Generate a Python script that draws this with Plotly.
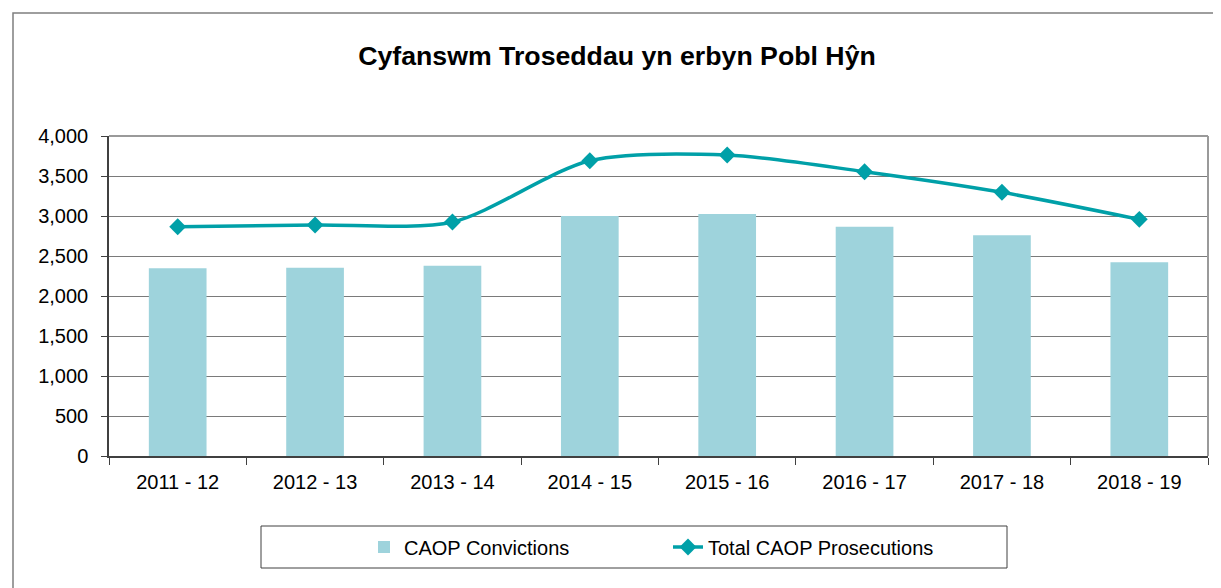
import plotly.graph_objects as go

categories = ["2011 - 12", "2012 - 13", "2013 - 14", "2014 - 15",
              "2015 - 16", "2016 - 17", "2017 - 18", "2018 - 19"]
convictions = [2346, 2354, 2379, 3000, 3025, 2866, 2758, 2421]
prosecutions = [2866, 2887, 2925, 3691, 3762, 3554, 3296, 2958]
y_ticks = [0, 500, 1000, 1500, 2000, 2500, 3000, 3500, 4000]

BAR_COLOR = "#9ed3dc"
LINE_COLOR = "#00a0a8"
FONT = "Liberation Sans, Arial, sans-serif"

fig = go.Figure()
fig.add_trace(go.Bar(
    x=categories, y=convictions, name="CAOP Convictions",
    marker=dict(color=BAR_COLOR, line=dict(width=0)), width=0.42,
))
fig.add_trace(go.Scatter(
    x=categories, y=prosecutions, name="Total CAOP Prosecutions",
    mode="lines+markers", line=dict(color=LINE_COLOR, width=3.5, shape="spline", smoothing=0.8),
    marker=dict(symbol="diamond", size=13, color=LINE_COLOR),
))

OFF = 8  # page body margin
W, H = 1221 - OFF, 588 - OFF
# plot area in page pixels: x 109..1208, y 136..456
L = 109 - OFF
T = 136 - OFF
R = W - (1208 - OFF)
B = H - (456 - OFF)
pw, ph = W - L - R, H - T - B

def px(x):  # page pixel -> paper
    return (x - OFF - L) / pw

def py(y):
    return (H - B - (y - OFF)) / ph

shapes = [
    dict(type="rect", xref="paper", yref="paper", x0=px(13), x1=px(1260), y0=py(13), y1=py(640),
         line=dict(color="#7f7f7f", width=1.5), fillcolor="rgba(0,0,0,0)", layer="below"),
    dict(type="line", xref="paper", yref="paper", x0=0, x1=1, y0=1, y1=1,
         line=dict(color="#9a9a9a", width=2)),
    dict(type="line", xref="paper", yref="paper", x0=1, x1=1, y0=0, y1=1,
         line=dict(color="#9a9a9a", width=2)),
    dict(type="rect", xref="paper", yref="paper", x0=px(261), x1=px(1007), y0=py(526), y1=py(568),
         line=dict(color="#404040", width=1), fillcolor="rgba(0,0,0,0)"),
]

fig.update_layout(
    width=W, height=H,
    margin=dict(l=L, r=R, t=T, b=B),
    paper_bgcolor="white", plot_bgcolor="white",
    font=dict(family=FONT, size=20, color="#000000"),
    title=dict(text="<b>Cyfanswm Troseddau yn erbyn Pobl Hŷn</b>",
               font=dict(family=FONT, size=26.7, color="#000"),
               x=(617 - OFF) / W, xanchor="center", y=1 - (56 - OFF) / H, yanchor="middle"),
    shapes=shapes,
    showlegend=True,
    legend=dict(orientation="h", x=px(364), xanchor="left", y=py(547), yanchor="middle",
                font=dict(family=FONT, size=20, color="#000"),
                entrywidth=259, entrywidthmode="pixels", bgcolor="rgba(0,0,0,0)", borderwidth=0),
    bargap=0.58,
)
fig.update_xaxes(
    type="category", showgrid=False, showline=True, linecolor="#404040", linewidth=1.5,
    ticks="outside", tickson="boundaries", ticklen=7, tickcolor="#404040",
    ticklabelstandoff=7,
    tickfont=dict(family=FONT, size=20, color="#000"), zeroline=False,
)
fig.update_yaxes(
    range=[0, 4000], tickvals=y_ticks, tickformat=",",
    showgrid=True, gridcolor="#7a7a7a", gridwidth=1,
    showline=True, linecolor="#404040", linewidth=1.5,
    ticks="outside", ticklen=6, tickcolor="#404040",
    ticklabelstandoff=9,
    tickfont=dict(family=FONT, size=20, color="#000"), zeroline=False,
)

fig.write_html("out.html")
